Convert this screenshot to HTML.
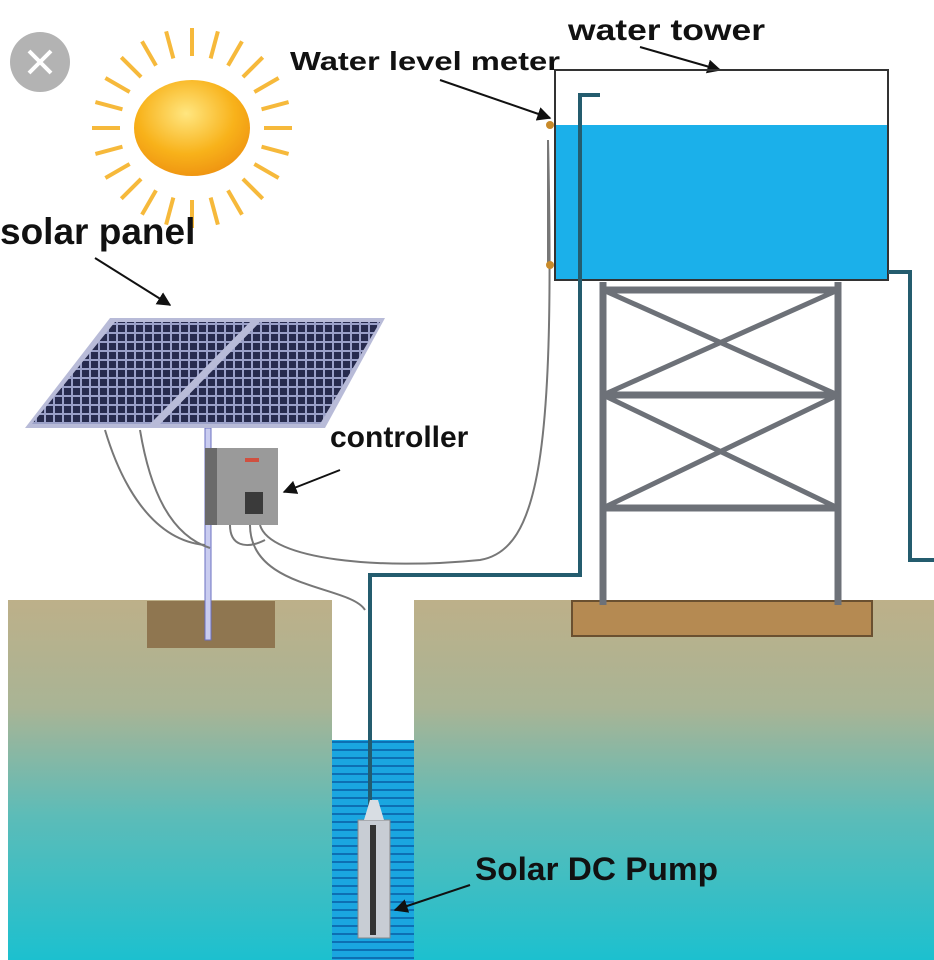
<!DOCTYPE html>
<html><head><meta charset="utf-8"><style>
html,body{margin:0;padding:0;background:#fff}
svg{display:block}
text{font-family:"Liberation Sans",sans-serif;font-weight:bold;fill:#111}
</style></head><body>
<svg width="934" height="960" viewBox="0 0 934 960" xmlns="http://www.w3.org/2000/svg">
<defs>
<linearGradient id="g" x1="0" y1="0" x2="0" y2="1">
<stop offset="0" stop-color="#bdb089"/><stop offset="0.3" stop-color="#a9b495"/><stop offset="0.6" stop-color="#5cbcb8"/><stop offset="1" stop-color="#1cc0cf"/>
</linearGradient>
<radialGradient id="sun" cx="0.45" cy="0.35" r="0.7">
<stop offset="0" stop-color="#ffe680"/><stop offset="0.6" stop-color="#f8b21a"/><stop offset="1" stop-color="#ee9010"/>
</radialGradient>
<pattern id="cells" width="9" height="9" patternUnits="userSpaceOnUse">
<rect width="9" height="9" fill="#9aa0c8"/><rect x="1" y="1" width="7" height="7" fill="#272b4e"/>
</pattern>
<pattern id="stripes" width="10" height="8" patternUnits="userSpaceOnUse">
<rect width="10" height="8" fill="#1aa6e0"/><rect y="5" width="10" height="2" fill="#0d6fb3"/>
</pattern>
<marker id="ar" viewBox="0 0 10 10" refX="9" refY="5" markerWidth="7" markerHeight="7" orient="auto"><path d="M0,0L10,5L0,10z" fill="#111"/></marker>
</defs>
<rect x="8" y="600" width="324" height="360" fill="url(#g)"/>
<rect x="414" y="600" width="520" height="360" fill="url(#g)"/>
<rect x="332" y="740" width="82" height="220" fill="url(#stripes)"/>
<rect x="147" y="601" width="128" height="47" fill="#8f7650"/>
<rect x="572" y="601" width="300" height="35" fill="#b58a52" stroke="#6a5030" stroke-width="2"/>
<circle cx="40" cy="62" r="30" fill="#b3b3b3"/>
<path d="M29,51L51,73M51,51L29,73" stroke="#fff" stroke-width="4"/>
<g stroke="#f6b93b" stroke-width="4" transform="translate(192,128)">
<g id="ray"><path d="M0,-72V-100"/></g>
<use href="#ray" transform="rotate(15)"/><use href="#ray" transform="rotate(30)"/><use href="#ray" transform="rotate(45)"/>
<use href="#ray" transform="rotate(60)"/><use href="#ray" transform="rotate(75)"/><use href="#ray" transform="rotate(90)"/>
<use href="#ray" transform="rotate(105)"/><use href="#ray" transform="rotate(120)"/><use href="#ray" transform="rotate(135)"/>
<use href="#ray" transform="rotate(150)"/><use href="#ray" transform="rotate(165)"/><use href="#ray" transform="rotate(180)"/>
<use href="#ray" transform="rotate(195)"/><use href="#ray" transform="rotate(210)"/><use href="#ray" transform="rotate(225)"/>
<use href="#ray" transform="rotate(240)"/><use href="#ray" transform="rotate(255)"/><use href="#ray" transform="rotate(270)"/>
<use href="#ray" transform="rotate(285)"/><use href="#ray" transform="rotate(300)"/><use href="#ray" transform="rotate(315)"/>
<use href="#ray" transform="rotate(330)"/><use href="#ray" transform="rotate(345)"/>
</g>
<ellipse cx="192" cy="128" rx="58" ry="48" fill="url(#sun)"/>
<text x="0" y="244" font-size="37">solar panel</text>
<path d="M95,258L170,305" stroke="#111" stroke-width="2" marker-end="url(#ar)"/>
<text x="330" y="447" font-size="30">controller</text>
<path d="M340,470L284,492" stroke="#111" stroke-width="2" marker-end="url(#ar)"/>
<text x="290" y="70" font-size="26" textLength="270" lengthAdjust="spacingAndGlyphs">Water level meter</text>
<path d="M440,80L550,118" stroke="#111" stroke-width="2" marker-end="url(#ar)"/>
<text x="568" y="40" font-size="30" textLength="197" lengthAdjust="spacingAndGlyphs">water tower</text>
<path d="M640,47L720,70" stroke="#111" stroke-width="2" marker-end="url(#ar)"/>
<text x="475" y="880" font-size="32" textLength="243" lengthAdjust="spacingAndGlyphs">Solar DC Pump</text>
<path d="M470,885L395,910" stroke="#111" stroke-width="2" marker-end="url(#ar)"/>
<rect x="205" y="428" width="6" height="212" fill="#c9ccf0" stroke="#6a6fc0"/>
<polygon points="25,428 110,318 385,318 325,428" fill="#b8bbd8"/>
<polygon points="32,424 115,322 250,322 150,424" fill="url(#cells)"/>
<polygon points="160,424 260,322 380,322 320,424" fill="url(#cells)"/>
<g fill="none" stroke="#777" stroke-width="2">
<path d="M105,430C120,480 150,540 205,545"/>
<path d="M140,430C150,490 170,535 210,548"/>
<path d="M230,525C230,545 245,550 265,540"/>
<path d="M260,525C270,560 380,570 480,560C540,550 555,450 548,140"/>
<path d="M250,525C250,590 350,585 365,610"/>
<path d="M548,140V265"/>
</g>
<rect x="205" y="448" width="73" height="77" fill="#9a9a9a"/>
<rect x="205" y="448" width="12" height="77" fill="#6a6a6a"/>
<rect x="245" y="458" width="14" height="4" fill="#d05040"/>
<rect x="245" y="492" width="18" height="22" fill="#3a3a3a"/>
<rect x="555" y="125" width="333" height="155" fill="#1bb0ea"/>
<rect x="555" y="70" width="333" height="210" fill="none" stroke="#333" stroke-width="2"/>
<circle cx="550" cy="125" r="4" fill="#c88a2a"/>
<circle cx="550" cy="265" r="4" fill="#c88a2a"/>
<g stroke="#6d7178" stroke-width="7">
<path d="M603,282V605M838,282V605M603,290H838M603,395H838M603,508H838"/>
<path d="M603,290L838,395M838,290L603,395M603,395L838,508M838,395L603,508" stroke-width="5"/>
</g>
<g fill="none" stroke="#245c6e" stroke-width="4">
<path d="M370,910V575H580V95H600"/>
<path d="M888,272H910V560H934"/>
</g>
<rect x="358" y="820" width="32" height="118" fill="#c8cdd4" stroke="#888"/>
<rect x="370" y="825" width="6" height="110" fill="#333"/>
<polygon points="364,820 384,820 378,800 370,800" fill="#d8dde3"/>
</svg>
</body></html>
